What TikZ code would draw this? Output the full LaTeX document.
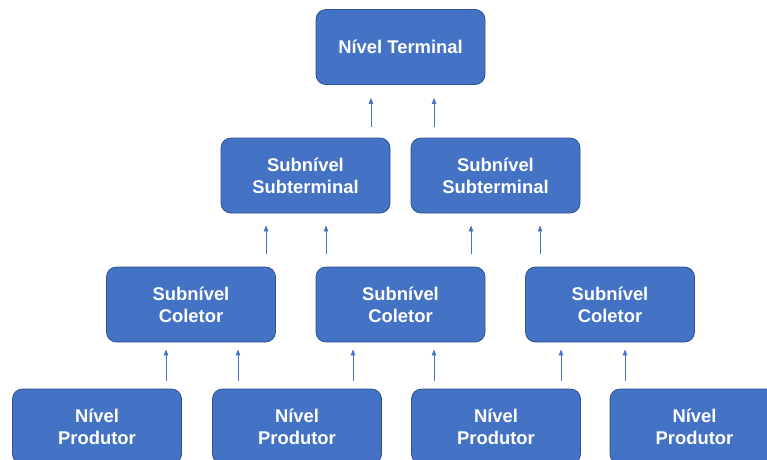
\documentclass[tikz,border=0pt]{standalone}
\usepackage{fontspec}
\setmainfont{Liberation Sans}
\usetikzlibrary{arrows.meta}
\definecolor{BoxBlue}{RGB}{68,114,196}
\definecolor{EdgeBlue}{RGB}{47,82,143}
\begin{document}
\begin{tikzpicture}[x=1pt,y=-1pt,
    level/.style={draw=EdgeBlue,fill=BoxBlue,rounded corners=10pt,line width=0.8pt,
                  minimum width=169pt,minimum height=75pt,align=center,
                  font=\fontsize{18.4}{22}\selectfont\bfseries,text=white},
    arrow/.style={-{Triangle[length=6pt,width=4.5pt]},BoxBlue,line width=0.8pt}]

    \useasboundingbox (0,0) rectangle (767,459);
    \clip (0,0) rectangle (767,459);

    % Terminal
    \node[level] (T) at (400.5,47) {Nível Terminal};

    % Subterminal
    \foreach \i/\x in {1/305.5, 2/495.5}
      \node[level] (S\i) at (\x,175.5) {Subnível\\Subterminal};

    % Coletor
    \foreach \i/\x in {1/191, 2/400.5, 3/610}
      \node[level] (C\i) at (\x,304.5) {Subnível\\Coletor};

    % Produtor
    \foreach \i/\x in {1/97, 2/297, 3/496, 4/694.5}
      \node[level] (P\i) at (\x,426.5) {Nível\\Produtor};

    % Arrows
    \foreach \s/\x in {S1/371, S2/434}
      \draw[arrow,shorten <=11pt,shorten >=13pt] (\s.north -| \x,0) -- (T.south -| \x,0);
    \foreach \c/\s/\x in {C1/S1/266, C2/S1/326, C2/S2/471, C3/S2/540}
      \draw[arrow,shorten <=13pt,shorten >=12pt] (\c.north -| \x,0) -- (\s.south -| \x,0);
    \foreach \p/\c/\x in {P1/C1/166, P2/C1/238, P2/C2/353, P3/C2/434, P3/C3/561, P4/C3/625}
      \draw[arrow,shorten <=8pt,shorten >=7pt] (\p.north -| \x,0) -- (\c.south -| \x,0);
  \end{tikzpicture}
\end{document}
